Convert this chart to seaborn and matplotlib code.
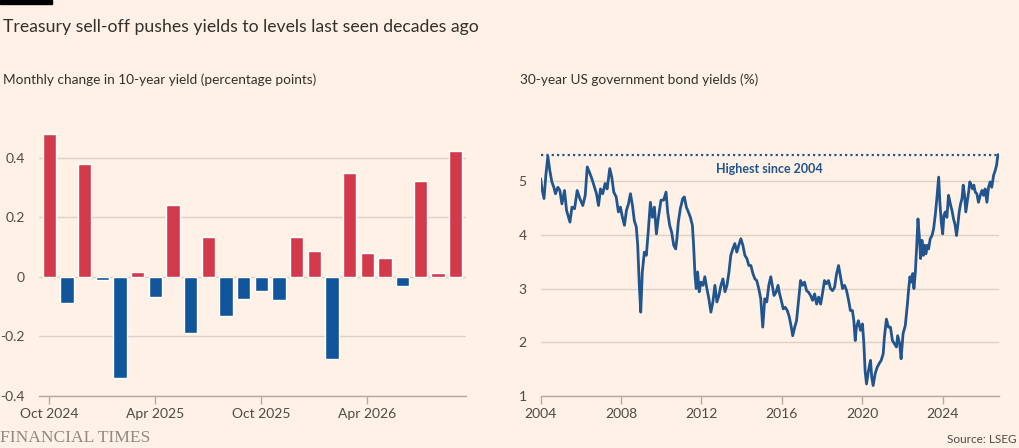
import matplotlib
matplotlib.use('Agg')
import matplotlib.pyplot as plt
import matplotlib.patches as mpatches
import numpy as np
import pandas as pd
import seaborn as sns

# Left panel: monthly change in 10-year yield (pp)
months = ['Oct 2024', 'Nov 2024', 'Dec 2024', 'Jan 2025', 'Feb 2025', 'Mar 2025',
          'Apr 2025', 'May 2025', 'Jun 2025', 'Jul 2025', 'Aug 2025', 'Sep 2025',
          'Oct 2025', 'Nov 2025', 'Dec 2025', 'Jan 2026', 'Feb 2026', 'Mar 2026',
          'Apr 2026', 'May 2026', 'Jun 2026', 'Jul 2026', 'Aug 2026', 'Sep 2026']
monthly_change = [0.48, -0.09, 0.38, -0.01, -0.34, 0.016,
                  -0.07, 0.24, -0.19, 0.134, -0.133, -0.075,
                  -0.048, -0.08, 0.134, 0.087, -0.277, 0.349,
                  0.078, 0.063, -0.03, 0.323, 0.013, 0.423]
month_ticks = ['Oct 2024', 'Apr 2025', 'Oct 2025', 'Apr 2026']
change_ticks = [-0.4, -0.2, 0, 0.2, 0.4]
change_labels = ['-0.4', '-0.2', '0', '0.2', '0.4']

# Right panel: 30-year US government bond yield (%)
years = [2004.00, 2004.07, 2004.17, 2004.26, 2004.36, 2004.46, 2004.56, 2004.66, 2004.74, 2004.86,
         2004.96, 2005.06, 2005.19, 2005.29, 2005.46, 2005.56, 2005.69, 2005.82, 2005.95, 2006.10,
         2006.22, 2006.32, 2006.43, 2006.55, 2006.68, 2006.78, 2006.88, 2006.98, 2007.09, 2007.21,
         2007.31, 2007.44, 2007.54, 2007.64, 2007.76, 2007.87, 2007.97, 2008.07, 2008.17, 2008.27,
         2008.37, 2008.47, 2008.57, 2008.66, 2008.76, 2008.83, 2008.91, 2008.98, 2009.06, 2009.16,
         2009.26, 2009.36, 2009.46, 2009.56, 2009.66, 2009.76, 2009.86, 2009.99, 2010.12, 2010.24,
         2010.32, 2010.42, 2010.52, 2010.62, 2010.72, 2010.78, 2010.85, 2010.95, 2011.07, 2011.15,
         2011.25, 2011.35, 2011.45, 2011.55, 2011.61, 2011.68, 2011.74, 2011.81, 2011.89, 2011.98,
         2012.08, 2012.17, 2012.27, 2012.37, 2012.47, 2012.57, 2012.67, 2012.77, 2012.87, 2012.97,
         2013.07, 2013.17, 2013.27, 2013.37, 2013.46, 2013.56, 2013.66, 2013.76, 2013.86, 2013.96,
         2014.06, 2014.16, 2014.26, 2014.36, 2014.46, 2014.56, 2014.66, 2014.75, 2014.85, 2014.95,
         2015.05, 2015.15, 2015.25, 2015.35, 2015.45, 2015.61, 2015.71, 2015.81, 2015.87, 2015.97,
         2016.07, 2016.17, 2016.27, 2016.37, 2016.47, 2016.54, 2016.64, 2016.73, 2016.83, 2016.93,
         2017.03, 2017.13, 2017.23, 2017.33, 2017.43, 2017.53, 2017.63, 2017.73, 2017.83, 2017.93,
         2018.03, 2018.12, 2018.22, 2018.32, 2018.42, 2018.52, 2018.62, 2018.72, 2018.82, 2018.92,
         2019.02, 2019.12, 2019.22, 2019.32, 2019.41, 2019.51, 2019.58, 2019.65, 2019.71, 2019.81,
         2019.91, 2020.01, 2020.08, 2020.14, 2020.21, 2020.31, 2020.41, 2020.47, 2020.54, 2020.64,
         2020.74, 2020.84, 2020.94, 2021.04, 2021.10, 2021.20, 2021.30, 2021.40, 2021.50, 2021.60,
         2021.70, 2021.76, 2021.86, 2021.93, 2022.03, 2022.14, 2022.24, 2022.31, 2022.37, 2022.44,
         2022.51, 2022.57, 2022.64, 2022.71, 2022.77, 2022.84, 2022.90, 2022.97, 2023.04, 2023.10,
         2023.17, 2023.24, 2023.30, 2023.38, 2023.47, 2023.55, 2023.63, 2023.71, 2023.80, 2023.86,
         2023.93, 2024.00, 2024.06, 2024.13, 2024.21, 2024.29, 2024.38, 2024.46, 2024.54, 2024.62,
         2024.69, 2024.76, 2024.82, 2024.89, 2024.96, 2025.02, 2025.09, 2025.15, 2025.22, 2025.29,
         2025.35, 2025.42, 2025.49, 2025.55, 2025.62, 2025.70, 2025.78, 2025.87, 2025.95, 2026.03,
         2026.11, 2026.20, 2026.28, 2026.36, 2026.44, 2026.53, 2026.61, 2026.68, 2026.73, 2026.76]
yields_30y = [5.05, 4.86, 4.68, 5.11, 5.47, 5.20, 4.99, 4.89, 4.77, 4.89,
              4.83, 4.58, 4.83, 4.46, 4.24, 4.52, 4.49, 4.83, 4.68, 4.55,
              4.74, 5.27, 5.17, 5.05, 4.89, 4.77, 4.55, 4.86, 4.77, 4.96,
              4.86, 5.24, 5.08, 4.80, 4.71, 4.43, 4.52, 4.33, 4.18, 4.46,
              4.58, 4.77, 4.55, 4.27, 4.15, 3.81, 3.06, 2.56, 3.31, 3.68,
              3.62, 4.09, 4.61, 4.33, 4.52, 4.02, 4.33, 4.65, 4.65, 4.80,
              4.43, 4.18, 4.05, 3.81, 3.74, 3.93, 4.24, 4.49, 4.68, 4.71,
              4.52, 4.43, 4.33, 4.18, 3.81, 3.25, 3.00, 3.31, 2.94, 3.12,
              3.06, 3.22, 3.00, 2.81, 2.56, 2.75, 3.06, 2.75, 2.87, 3.06,
              3.18, 2.94, 3.06, 3.31, 3.62, 3.74, 3.84, 3.68, 3.81, 3.93,
              3.81, 3.62, 3.56, 3.43, 3.43, 3.28, 3.18, 3.15, 3.00, 2.81,
              2.28, 2.81, 2.75, 3.06, 3.22, 2.87, 2.93, 3.06, 2.93, 2.78,
              2.62, 2.65, 2.59, 2.47, 2.28, 2.12, 2.28, 2.40, 2.78, 3.15,
              3.06, 3.12, 2.96, 2.93, 2.87, 2.78, 2.90, 2.71, 2.84, 2.71,
              2.93, 3.15, 3.09, 3.15, 3.00, 2.96, 3.02, 3.27, 3.43, 3.21,
              3.00, 3.06, 2.96, 2.78, 2.59, 2.59, 2.40, 2.03, 2.28, 2.40,
              2.22, 2.34, 1.97, 1.47, 1.22, 1.47, 1.66, 1.35, 1.19, 1.41,
              1.53, 1.60, 1.66, 1.78, 2.09, 2.43, 2.28, 2.28, 2.03, 1.97,
              1.91, 2.12, 1.97, 1.69, 2.16, 2.31, 2.69, 3.00, 3.22, 3.12,
              3.28, 3.00, 3.31, 3.81, 4.30, 3.96, 3.56, 3.90, 3.62, 3.81,
              3.65, 3.81, 3.74, 3.93, 3.99, 4.12, 4.37, 4.68, 5.08, 4.61,
              4.24, 4.02, 4.37, 4.43, 4.33, 4.74, 4.58, 4.46, 4.30, 4.18,
              3.99, 4.21, 4.43, 4.58, 4.68, 4.93, 4.74, 4.43, 4.61, 4.80,
              4.99, 4.93, 4.86, 4.93, 4.80, 4.77, 4.61, 4.74, 4.83, 4.74,
              4.86, 4.61, 4.89, 4.99, 4.89, 5.11, 5.20, 5.30, 5.45, 5.50]
peak_level = 5.5
year_ticks = [2004, 2008, 2012, 2016, 2020, 2024]
yield_ticks = [1, 2, 3, 4, 5]

BG = '#fff1e5'
RED = '#d23a4c'
BLUE = '#11559b'
LINE = '#21558f'
GRID = '#ddd1c6'
SPINE = '#b3aaa2'
TEXT = '#33302e'
TICK = '#4f4a46'

sns.set_theme(style='white')
plt.rcParams['font.family'] = ['Lato', 'DejaVu Sans']
plt.rcParams['axes.unicode_minus'] = False

fig = plt.figure(figsize=(10.2, 4.48), dpi=100, facecolor=BG)
ax1 = fig.add_axes([0.038, 0.1167, 0.419, 0.598])
ax2 = fig.add_axes([0.530, 0.1167, 0.449, 0.598])

# bars, coloured by sign
df = pd.DataFrame({'month': months, 'change': monthly_change})
df['dir'] = np.where(df['change'] >= 0, 'up', 'down')
sns.barplot(data=df, x='month', y='change', hue='dir', order=months,
            palette={'up': RED, 'down': BLUE}, dodge=False, width=0.75,
            saturation=1, legend=False, ax=ax1)
ax1.set_ylim(-0.4, 0.5)
ax1.set_xlim(-0.6, len(months) - 0.4)
ax1.set_yticks(change_ticks)
ax1.set_yticklabels(change_labels)
ax1.set_xticks([months.index(m) for m in month_ticks])
ax1.set_xticklabels(month_ticks)

# 30-year yield line
sns.lineplot(x=years, y=yields_30y, color=LINE, linewidth=2.0, ax=ax2)
ax2.axhline(peak_level, color=LINE, linewidth=1.6, linestyle=(0, (1, 1.4)))
ax2.text(2015.4, 5.24, 'Highest since 2004', ha='center', va='center',
         fontsize=9, fontweight='bold', color=LINE)
ax2.set_xlim(2004, 2026.78)
ax2.set_ylim(1, 6)
ax2.set_yticks(yield_ticks)
ax2.set_xticks(year_ticks)

for ax in (ax1, ax2):
    ax.set_facecolor(BG)
    ax.set_xlabel('')
    ax.set_ylabel('')
    for s in ('top', 'right', 'left'):
        ax.spines[s].set_visible(False)
    ax.spines['bottom'].set_color(SPINE)
    ax.spines['bottom'].set_linewidth(1)
    ax.yaxis.grid(True, color=GRID, linewidth=1)
    ax.xaxis.grid(False)
    ax.set_axisbelow(True)
    ax.tick_params(axis='y', length=0, pad=10, labelsize=10, labelcolor=TICK)
    ax.tick_params(axis='x', length=6, width=1, color=SPINE, pad=3,
                   labelsize=10, labelcolor=TICK, bottom=True)

# header / footer
fig.add_artist(mpatches.Rectangle((0, 1 - 4 / 448), 52 / 1020, 4 / 448,
                                  transform=fig.transFigure, color='black'))
fig.text(0.003, 0.94, 'Treasury sell-off pushes yields to levels last seen decades ago',
         fontsize=12.7, color=TEXT, va='center')
fig.text(0.003, 0.821, 'Monthly change in 10-year yield (percentage points)',
         fontsize=9.8, color=TEXT, va='center')
fig.text(0.510, 0.821, '30-year US government bond yields (%)',
         fontsize=9.8, color=TEXT, va='center')
fig.text(0.0, 0.022, 'FINANCIAL TIMES', fontsize=12.6, color='#8f8a85', va='center',
         family=['Liberation Serif', 'DejaVu Serif'])
fig.text(0.997, 0.018, 'Source: LSEG', fontsize=8.5, color=TICK, va='center', ha='right')

fig.savefig('out.png', dpi=100, facecolor=BG)
